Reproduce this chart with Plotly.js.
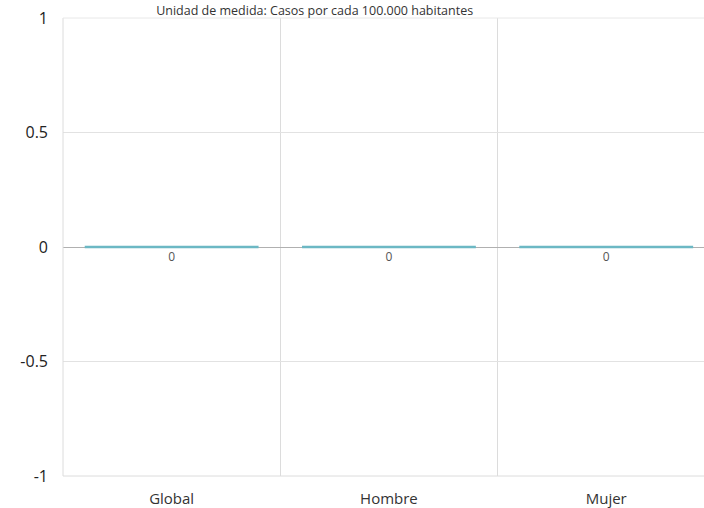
<!DOCTYPE html>
<html><head><meta charset="utf-8">
<script src="https://cdn.plot.ly/plotly-3.0.1.min.js"></script>
<style>html,body{margin:0;padding:0;background:#fff;}</style>
</head><body>
<div id="chart" style="width:704px;height:508px;"></div>
<script>
const categories = ["Global", "Hombre", "Mujer"];
const values = [0, 0, 0];
const valueLabels = ["0", "0", "0"];
const titleText = "Unidad de medida: Casos por cada 100.000 habitantes";

const traces = [
  {
    type: "bar",
    x: categories,
    y: values,
    width: 0.8,
    marker: {color: "#6cc0cc", line: {color: "#6cb8c4", width: 2.5}},
    hoverinfo: "skip",
    showlegend: false
  },
  {
    type: "scatter",
    mode: "markers+text",
    x: categories,
    y: values,
    text: valueLabels,
    textposition: "bottom center",
    marker: {size: 6, opacity: 0},
    textfont: {family: "Open Sans, sans-serif", size: 12, color: "#555"},
    hoverinfo: "skip",
    showlegend: false
  }
];

const layout = {
  width: 704, height: 508,
  margin: {l: 63, r: 0, t: 18, b: 32},
  paper_bgcolor: "#fff", plot_bgcolor: "#fff",
  font: {family: "Open Sans, sans-serif", color: "#333"},
  title: {text: titleText, font: {size: 12.5, color: "#333"}, x: 0.447, xanchor: "center", y: 0.979, yanchor: "middle"},
  xaxis: {
    type: "category",
    range: [-0.5, 2.45],
    tickson: "boundaries",
    showgrid: true, gridcolor: "#dcdcdc", gridwidth: 1,
    ticks: "", tickfont: {size: 15, color: "#333"},
    ticklabelstandoff: 12,
    showline: false, zeroline: false,
    fixedrange: true
  },
  yaxis: {
    range: [-1, 1],
    tickvals: [-1, -0.5, 0, 0.5, 1],
    ticktext: ["-1", "-0.5", "0", "0.5", "1"],
    showgrid: true, gridcolor: "#e2e2e2", gridwidth: 1,
    zeroline: true, zerolinecolor: "#b0b0b0", zerolinewidth: 1,
    tickfont: {size: 16, color: "#222"},
    ticks: "", ticklabelstandoff: 14,
    showline: false
  },
  shapes: [
    {type: "line", xref: "paper", yref: "paper", x0: 0, x1: 0, y0: 0, y1: 1, line: {color: "#dcdcdc", width: 1}},
    {type: "line", xref: "paper", yref: "paper", x0: 0, x1: 1, y0: 0, y1: 0, line: {color: "#dcdcdc", width: 1}},
    {type: "line", xref: "paper", yref: "paper", x0: 0, x1: 1, y0: 1, y1: 1, line: {color: "#e8e8e8", width: 1}}
  ]
};

Plotly.newPlot("chart", traces, layout, {displayModeBar: false, staticPlot: true});
</script>
</body></html>
